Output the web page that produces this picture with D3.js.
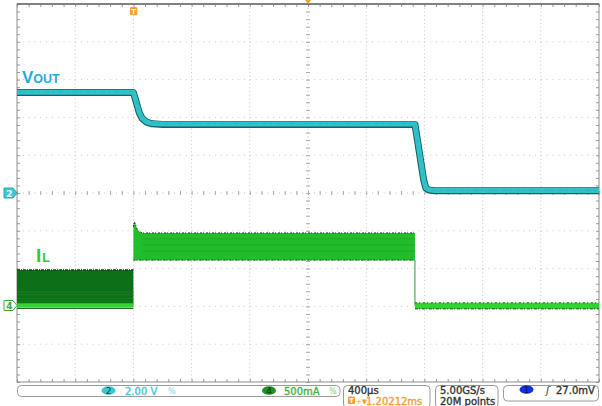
<!DOCTYPE html>
<html>
<head>
<meta charset="utf-8">
<script src="https://cdn.jsdelivr.net/npm/d3@7"></script>
<style>
  html, body { margin: 0; padding: 0; background: #fff; }
  svg { display: block; }
</style>
</head>
<body>
<svg id="scope" width="602" height="406"></svg>
<script>
// ---- capture data ----
// Timebase 400 µs/div, time in ms relative to the trigger point
const timeDomain = [-0.8, 3.2];
// Channel 2: output voltage (2.00 V/div)
const voutTime = [-0.8, 0.0, 0.02, 0.04, 0.06, 0.09, 0.13, 0.2, 1.935, 1.95, 1.965, 1.98, 1.995, 2.01, 2.03, 2.07, 3.2];
const voutVolts = [5.32, 5.32, 4.8, 4.25, 3.95, 3.75, 3.66, 3.63, 3.63, 2.9, 2.17, 1.43, 0.69, 0.26, 0.16, 0.12, 0.12];
// Channel 4: inductor current (500 mA/div), min/max envelope of the switching ripple
const ilLightTime = [-0.8, 0.0];
const ilLightLow = [0.0, 0.0];
const ilLightHigh = [0.47, 0.47];
const ilHeavyTime = [0.0, 0.006, 0.03, 0.06, 1.935];
const ilHeavyLow = [0.6, 0.6, 0.6, 0.6, 0.6];
const ilHeavyHigh = [1.04, 1.11, 0.99, 0.96, 0.96];
const ilOffTime = [1.935, 3.2];
const ilOffLow = [-0.045, -0.045];
const ilOffHigh = [0.035, 0.035];
const ilEdgeTime = [1.935, 1.935];
const ilEdgeAmps = [0.6, 0.0];
// Readouts
const ch2Scale = "2.00 V";
const ch4Scale = "500mA";
const horizScale = "400µs";
const triggerDelay = "1.20212ms";
const sampleRate = "5.00GS/s";
const recordLength = "20M points";
const triggerLevel = "27.0mV";

// ---- layout ----
const svg = d3.select("#scope");
const L = 17, R = 599, T = 4, B = 382;
const divsX = 10, divsY = 10;
const ch2Pos = 0;        // divisions from centre
const ch4Pos = -2.976;

const x = d3.scaleLinear().domain(timeDomain).range([L, R]);
const yV = d3.scaleLinear().domain([(-5 - ch2Pos) * 2, (5 - ch2Pos) * 2]).range([B, T]);
const yI = d3.scaleLinear().domain([(-5 - ch4Pos) * 0.5, (5 - ch4Pos) * 0.5]).range([B, T]);
// graticule scale in divisions
const gx = d3.scaleLinear().domain([0, divsX]).range([L, R]);
const gy = d3.scaleLinear().domain([0, divsY]).range([T, B]);

const grid = svg.append("g");
const majorX = d3.range(1, divsX);
const majorY = d3.range(1, divsY);
const minorX = d3.range(0, divsX * 5 + 1).map(d => d / 5);
const minorY = d3.range(0, divsY * 5 + 1).map(d => d / 5);

// dotted division lines
grid.selectAll("line.gv").data(majorX.filter(d => d !== 5)).join("line")
  .attr("x1", d => gx(d)).attr("x2", d => gx(d)).attr("y1", T).attr("y2", B)
  .attr("stroke", "#c4c4c4").attr("stroke-width", 1).attr("stroke-dasharray", "1,2.78");
grid.selectAll("line.gh").data(majorY.filter(d => d !== 5)).join("line")
  .attr("x1", L).attr("x2", R).attr("y1", d => gy(d)).attr("y2", d => gy(d))
  .attr("stroke", "#c4c4c4").attr("stroke-width", 1).attr("stroke-dasharray", "1,4.82");

// centre cross with minor ticks
grid.append("line").attr("x1", gx(5)).attr("x2", gx(5)).attr("y1", T).attr("y2", B)
  .attr("stroke", "#b8b8b8").attr("stroke-dasharray", "1,2.78");
grid.append("line").attr("x1", L).attr("x2", R).attr("y1", gy(5)).attr("y2", gy(5))
  .attr("stroke", "#b8b8b8").attr("stroke-dasharray", "1,4.82");
grid.append("g").attr("transform", `translate(0,${gy(5) + 2})`)
  .call(d3.axisTop(gx).tickValues(minorX).tickSize(4).tickFormat("").tickSizeOuter(0))
  .call(g => g.select(".domain").remove())
  .selectAll("line").attr("stroke", "#a8a8a8");
grid.append("g").attr("transform", `translate(${gx(5) + 2},0)`)
  .call(d3.axisLeft(gy).tickValues(minorY).tickSize(4).tickFormat("").tickSizeOuter(0))
  .call(g => g.select(".domain").remove())
  .selectAll("line").attr("stroke", "#a8a8a8");

// border ticks
const borderTick = (axis, tx, ty) => grid.append("g").attr("transform", `translate(${tx},${ty})`)
  .call(axis.tickSize(3).tickFormat("").tickSizeOuter(0))
  .call(g => g.select(".domain").remove())
  .selectAll("line").attr("stroke", "#9a9a9a");
borderTick(d3.axisBottom(gx).tickValues(minorX), 0, T);
borderTick(d3.axisTop(gx).tickValues(minorX), 0, B);
borderTick(d3.axisRight(gy).tickValues(minorY), L, 0);
borderTick(d3.axisLeft(gy).tickValues(minorY), R, 0);
grid.append("rect").attr("x", L).attr("y", T).attr("width", R - L).attr("height", B - T)
  .attr("fill", "none").attr("stroke", "#8c8c8c").attr("stroke-width", 1);
grid.append("line").attr("x1", L).attr("x2", R).attr("y1", T).attr("y2", T)
  .attr("stroke", "#6a6a6a").attr("stroke-width", 1.5);

// ---- channel 4: inductor current ----
const traces = svg.append("g");
const band = (t, lo, hi) => d3.area()
  .x((d, i) => x(t[i])).y0((d, i) => yI(lo[i])).y1((d, i) => yI(hi[i]))(t);
const edge = (t, v) => d3.line().x((d, i) => x(t[i])).y((d, i) => yI(v[i]))(t);

// light-load (discontinuous) burst region
traces.append("path").attr("d", band(ilLightTime, ilLightLow, ilLightHigh))
  .attr("fill", "#0d6f17");
[0.12, 0.2, 0.3, 0.38].forEach(f => {
  traces.append("path")
    .attr("d", edge(ilLightTime, ilLightHigh.map(h => h * f)))
    .attr("stroke", "#168a22").attr("stroke-width", 1).attr("opacity", 0.8).attr("fill", "none");
});
traces.append("path").attr("d", edge(ilLightTime, ilLightHigh))
  .attr("stroke", "#0a3d0c").attr("stroke-width", 1.2).attr("stroke-dasharray", "3,1,1,1").attr("fill", "none");
traces.append("path").attr("d", edge(ilLightTime, ilLightLow))
  .attr("stroke", "#36d336").attr("stroke-width", 4.5).attr("fill", "none");
traces.append("path").attr("d", edge(ilLightTime, ilLightLow.map(v => v - 0.04)))
  .attr("stroke", "#1f6e1f").attr("stroke-width", 1).attr("fill", "none");

// heavy-load (continuous) region
traces.append("path").attr("d", band(ilHeavyTime, ilHeavyLow, ilHeavyHigh))
  .attr("fill", "#22bd2a");
[0.72, 0.8, 0.88].forEach(v => {
  traces.append("path").attr("d", edge([ilHeavyTime[3], ilHeavyTime[4]], [v, v]))
    .attr("stroke", "#1aa523").attr("stroke-width", 1).attr("opacity", 0.7).attr("fill", "none");
});
traces.append("path").attr("d", edge(ilHeavyTime, ilHeavyHigh))
  .attr("stroke", "#173f17").attr("stroke-width", 1).attr("stroke-dasharray", "2,1,1,2").attr("fill", "none");
traces.append("path").attr("d", edge(ilHeavyTime, ilHeavyLow))
  .attr("stroke", "#173f17").attr("stroke-width", 1).attr("stroke-dasharray", "2,1,1,2").attr("fill", "none");

// load released: current falls to zero
traces.append("path").attr("d", edge(ilEdgeTime, ilEdgeAmps))
  .attr("stroke", "#2a9a2a").attr("stroke-width", 1).attr("fill", "none");
traces.append("path").attr("d", band(ilOffTime, ilOffLow, ilOffHigh))
  .attr("fill", "#30d330");
traces.append("path").attr("d", edge(ilOffTime, ilOffHigh))
  .attr("stroke", "#1d5a1d").attr("stroke-width", 1).attr("stroke-dasharray", "2,2,1,3").attr("fill", "none");
traces.append("path").attr("d", edge(ilOffTime, ilOffLow))
  .attr("stroke", "#1d5a1d").attr("stroke-width", 1).attr("stroke-dasharray", "3,1,1,2").attr("fill", "none");

// ---- channel 2: output voltage ----
const vLine = d3.line().x((d, i) => x(voutTime[i])).y((d, i) => yV(voutVolts[i]));
traces.append("path").attr("d", vLine(voutTime))
  .attr("fill", "none").attr("stroke", "#19625f").attr("stroke-width", 7).attr("stroke-linejoin", "round");
traces.append("path").attr("d", vLine(voutTime)).attr("transform", "translate(0,-0.3)")
  .attr("fill", "none").attr("stroke", "#30c2c9").attr("stroke-width", 5).attr("stroke-linejoin", "round");
traces.append("path").attr("d", vLine(voutTime)).attr("transform", "translate(0,-0.8)")
  .attr("fill", "none").attr("stroke", "#22a9b0").attr("stroke-width", 0.8).attr("stroke-dasharray", "4,3,2,5")
  .attr("opacity", 0.6);

// ---- trace labels ----
const vlab = svg.append("text").attr("x", 22).attr("y", 83)
  .attr("font-family", "Liberation Sans, Arial, sans-serif").attr("font-weight", "bold").attr("fill", "#2aa9df");
vlab.append("tspan").attr("font-size", 17).text("V");
vlab.append("tspan").attr("font-size", 12.5).attr("dx", 0).text("OUT");
const ilab = svg.append("text").attr("x", 36).attr("y", 262)
  .attr("font-family", "Liberation Sans, Arial, sans-serif").attr("font-weight", "bold").attr("fill", "#38c238");
ilab.append("tspan").attr("font-size", 19).text("I");
ilab.append("tspan").attr("font-size", 12.5).attr("dx", 1).text("L");

// ---- channel / trigger markers ----
const tag = (cy, fill, stroke, label, textFill) => {
  const g = svg.append("g");
  g.append("path")
    .attr("d", `M4,${cy - 5} H13 L17,${cy} L13,${cy + 5} H4 Z`)
    .attr("fill", fill).attr("stroke", stroke).attr("stroke-width", 1);
  g.append("text").attr("x", 9.5).attr("y", cy + 3.5).attr("text-anchor", "middle")
    .attr("font-family", "DejaVu Sans, sans-serif").attr("font-size", 9).attr("font-weight", "bold")
    .attr("fill", textFill).text(label);
};
tag(yV(0), "#3cc8d0", "#2aa8b0", "2", "#e8ffff");
tag(yI(0), "#ffffff", "#3aaa3a", "4", "#3aaa3a");

// trigger position
svg.append("rect").attr("x", x(0) - 3.5).attr("y", 7).attr("width", 7.5).attr("height", 8).attr("rx", 1.5)
  .attr("fill", "#f0a030");
svg.append("text").attr("x", x(0) + 0.3).attr("y", 13.8).attr("text-anchor", "middle")
  .attr("font-family", "DejaVu Sans, sans-serif").attr("font-size", 7).attr("font-weight", "bold")
  .attr("fill", "#fff").text("T");
// expansion point
svg.append("path").attr("d", `M${gx(5) - 3},0 H${gx(5) + 3} L${gx(5)},4 Z`).attr("fill", "#f0a030");

// ---- readout boxes ----
const ro = svg.append("g").attr("font-family", "DejaVu Sans, sans-serif").attr("font-size", 10);
const box = (x0, x1, y0, y1) => ro.append("rect").attr("x", x0).attr("y", y0)
  .attr("width", x1 - x0).attr("height", y1 - y0).attr("rx", 4)
  .attr("fill", "#fff").attr("stroke", "#9a9a9a").attr("stroke-width", 1);
box(17.5, 340, 385.5, 396.5);
box(343.5, 430, 385.5, 408);
box(435.5, 498, 385.5, 408);
box(503.5, 598.5, 385.5, 401);

const txt = (px, py, fill, s) => ro.append("text").attr("x", px).attr("y", py)
  .attr("fill", fill).attr("stroke", fill).attr("stroke-width", 0.35).text(s);

// channel 2 readout
ro.append("ellipse").attr("cx", 108.5).attr("cy", 390.5).attr("rx", 7).attr("ry", 4.3).attr("fill", "#3cc8d0");
ro.append("text").attr("x", 108.5).attr("y", 394).attr("text-anchor", "middle").attr("font-size", 9)
  .attr("fill", "#10484a").text("2");
txt(125, 394.5, "#46c6cc", ch2Scale);
ro.append("text").attr("x", 168).attr("y", 394).attr("font-size", 8).attr("fill", "#7fd6dc").text("%");
// channel 4 readout
ro.append("ellipse").attr("cx", 269).attr("cy", 390.5).attr("rx", 7).attr("ry", 4.3).attr("fill", "#1f8f26");
ro.append("text").attr("x", 269).attr("y", 394).attr("text-anchor", "middle").attr("font-size", 9)
  .attr("fill", "#0b3a0e").text("4");
txt(284, 394.5, "#3db53d", ch4Scale);
ro.append("text").attr("x", 329).attr("y", 394).attr("font-size", 8).attr("fill", "#7ccc7c").text("%");
// horizontal readout
txt(348, 394, "#333", horizScale);
ro.append("rect").attr("x", 348).attr("y", 396.5).attr("width", 7).attr("height", 7.5).attr("rx", 1.3).attr("fill", "#f0a030");
ro.append("text").attr("x", 351.5).attr("y", 403).attr("text-anchor", "middle").attr("font-size", 6.5)
  .attr("font-weight", "bold").attr("fill", "#fff").text("T");
ro.append("text").attr("x", 356).attr("y", 403.5).attr("font-size", 7).attr("fill", "#f0a030").text("+▼");
txt(366, 405, "#f0a030", triggerDelay);
// acquisition readout
txt(440, 394, "#333", sampleRate);
txt(440, 405, "#333", recordLength);
// trigger readout
ro.append("ellipse").attr("cx", 526.5).attr("cy", 389.5).attr("rx", 7).attr("ry", 4.3).attr("fill", "#1530d8");
ro.append("text").attr("x", 526.5).attr("y", 393).attr("text-anchor", "middle").attr("font-size", 8)
  .attr("fill", "#0a1040").text("1");
ro.append("text").attr("x", 546).attr("y", 394).attr("font-style", "italic").attr("fill", "#333").text("ʃ");
txt(556, 394, "#333", triggerLevel);
</script>
</body>
</html>
